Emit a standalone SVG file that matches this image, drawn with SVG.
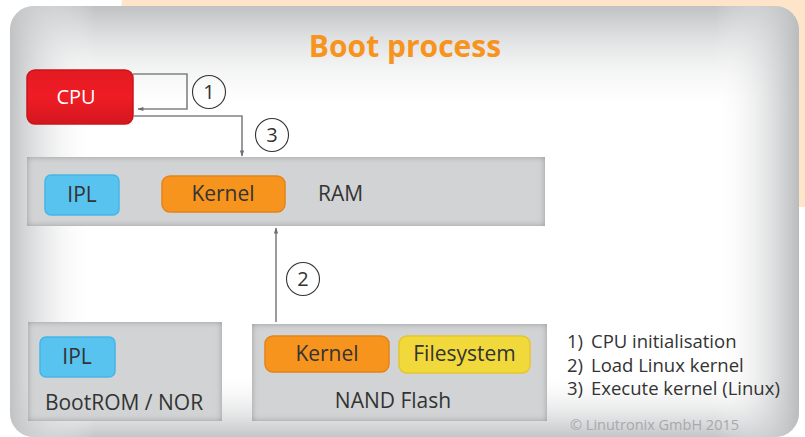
<svg xmlns="http://www.w3.org/2000/svg" width="805" height="437" viewBox="0 0 805 437">
<defs>
<style>
.t{font-family:"Open Sans","Liberation Sans",sans-serif;fill:#333;}
.box{fill:#d1d3d4;filter:url(#inset);}
.conn{fill:none;stroke:#808285;stroke-width:1.6;}
.circ{fill:none;stroke:#333;stroke-width:1.1;}
.num{font-family:"Open Sans","Liberation Sans",sans-serif;font-size:20px;fill:#333;text-anchor:middle;}
</style>
<filter id="inset" x="-5%" y="-20%" width="110%" height="140%">
<feFlood flood-color="#939598"/>
<feComposite in2="SourceAlpha" operator="out"/>
<feGaussianBlur stdDeviation="3"/>
<feComposite in2="SourceAlpha" operator="in" result="sh"/>
<feMerge><feMergeNode in="SourceGraphic"/><feMergeNode in="sh"/></feMerge>
</filter>
<linearGradient id="gTop" x1="0" y1="0" x2="0" y2="1"><stop offset="0" stop-color="#bfc1c3"/><stop offset="1" stop-color="#fff" stop-opacity="0"/></linearGradient>
<linearGradient id="gBot" x1="0" y1="1" x2="0" y2="0"><stop offset="0" stop-color="#c3c5c7"/><stop offset="1" stop-color="#fff" stop-opacity="0"/></linearGradient>
<linearGradient id="gLeft" x1="0" y1="0" x2="1" y2="0"><stop offset="0" stop-color="#c0c2c4"/><stop offset="1" stop-color="#fff" stop-opacity="0"/></linearGradient>
<linearGradient id="gRight" x1="1" y1="0" x2="0" y2="0"><stop offset="0" stop-color="#b9bbbd"/><stop offset="1" stop-color="#fff" stop-opacity="0"/></linearGradient>
<linearGradient id="gCpu" x1="0" y1="0" x2="0" y2="1"><stop offset="0" stop-color="#e41a22"/><stop offset="0.5" stop-color="#ef1c25"/><stop offset="1" stop-color="#d4171e"/></linearGradient>
<clipPath id="panelClip"><rect x="10" y="6" width="789" height="431" rx="24"/></clipPath>
<marker id="arr" viewBox="0 0 10 10" refX="9" refY="5" markerWidth="8" markerHeight="6" orient="auto" markerUnits="userSpaceOnUse"><path d="M0,1.5 L10,5 L0,8.5 Z" fill="#6d6e71"/></marker>
</defs>
<rect x="0" y="0" width="805" height="437" fill="#fff"/>
<polygon points="122,0 805,0 805,207 100,207" fill="#fee4c9"/>
<g id="panel">
<rect x="10" y="6" width="789" height="431" rx="24" fill="#fff"/>
<g clip-path="url(#panelClip)">
<rect x="10" y="6" width="789" height="110" fill="url(#gTop)"/>
<rect x="10" y="370" width="789" height="67" fill="url(#gBot)"/>
<rect x="10" y="6" width="85" height="431" fill="url(#gLeft)"/>
<rect x="715" y="6" width="84" height="431" fill="url(#gRight)"/>
</g>
</g>
<text x="405" y="57" text-anchor="middle" style="font-family:'Open Sans','Liberation Sans',sans-serif;font-weight:bold;font-size:30px;fill:#f7941d;">Boot process</text>
<g id="connectors">
<path class="conn" d="M133,74 H187 V109 H138" marker-end="url(#arr)"/>
<path class="conn" d="M134,116 H242 V156" marker-end="url(#arr)"/>
<path class="conn" d="M276,322 V228" marker-end="url(#arr)"/>
<circle class="circ" cx="209" cy="92" r="16.5"/>
<text class="num" x="209" y="99">1</text>
<circle class="circ" cx="272" cy="135" r="16.5"/>
<text class="num" x="272" y="142">3</text>
<circle class="circ" cx="303" cy="279" r="16.5"/>
<text class="num" x="303" y="286">2</text>
</g>
<g id="cpu">
<rect x="27" y="70" width="106" height="54" rx="8" fill="url(#gCpu)" stroke="#c8161d" stroke-width="1.5"/>
<text x="76" y="104" text-anchor="middle" style="font-family:'Open Sans','Liberation Sans',sans-serif;font-size:20px;fill:#fff;">CPU</text>
</g>
<g id="ram">
<rect class="box" x="27" y="157" width="518" height="69"/>
<g id="ram-ipl">
<rect x="45" y="175" width="74" height="40" rx="6" fill="#59c3f0" stroke="#45b6e6" stroke-width="1.5"/>
<text class="t" x="82" y="202" text-anchor="middle" font-size="21">IPL</text>
</g>
<g id="ram-kernel">
<rect x="162" y="176" width="123" height="36" rx="8" fill="#f7941d" stroke="#e5831a" stroke-width="1.5"/>
<text class="t" x="223" y="201" text-anchor="middle" font-size="21">Kernel</text>
</g>
<text class="t" x="318" y="201" font-size="21">RAM</text>
</g>
<g id="bootrom">
<rect class="box" x="28" y="322" width="194" height="99"/>
<g id="rom-ipl">
<rect x="40" y="337" width="75" height="40" rx="6" fill="#59c3f0" stroke="#45b6e6" stroke-width="1.5"/>
<text class="t" x="77" y="364" text-anchor="middle" font-size="21">IPL</text>
</g>
<text class="t" x="124" y="410" text-anchor="middle" font-size="21">BootROM / NOR</text>
</g>
<g id="nand">
<rect class="box" x="252" y="324" width="295" height="97"/>
<g id="nand-kernel">
<rect x="265" y="336" width="124" height="36" rx="8" fill="#f7941d" stroke="#e5831a" stroke-width="1.5"/>
<text class="t" x="327" y="361" text-anchor="middle" font-size="21">Kernel</text>
</g>
<g id="nand-fs">
<rect x="399" y="336" width="131" height="37" rx="8" fill="#f2d93b" stroke="#e3c62c" stroke-width="1.5"/>
<text class="t" x="464.5" y="361" text-anchor="middle" font-size="21">Filesystem</text>
</g>
<text class="t" x="393" y="408" text-anchor="middle" font-size="21">NAND Flash</text>
</g>
<g id="legend">
<text class="t" x="567" y="348" font-size="18.5">1)<tspan x="591">CPU initialisation</tspan></text>
<text class="t" x="567" y="372" font-size="18.5">2)<tspan x="591">Load Linux kernel</tspan></text>
<text class="t" x="567" y="395" font-size="18.5">3)<tspan x="591">Execute kernel (Linux)</tspan></text>
<text x="570" y="430" style="font-family:'Open Sans','Liberation Sans',sans-serif;font-size:14.5px;fill:#a7a9ac;">© Linutronix GmbH 2015</text>
</g>
</svg>
